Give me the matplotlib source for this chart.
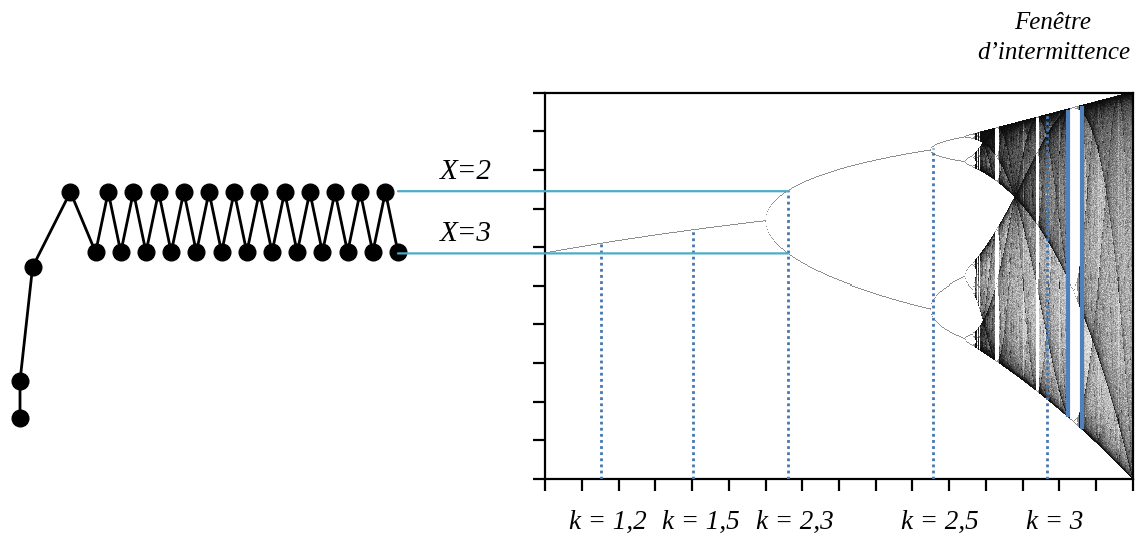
import numpy as np
import matplotlib
matplotlib.use("Agg")
import matplotlib.pyplot as plt
from matplotlib.patches import ConnectionPatch

# left time series (zigzag converging to a 2-cycle)
t_vals = [0.0, 0.0, 0.5, 2.0, 3.0, 3.5, 4.0, 4.5, 5.0, 5.5, 6.0, 6.5, 7.0, 7.5,
          8.0, 8.5, 9.0, 9.5, 10.0, 10.5, 11.0, 11.5, 12.0, 12.5, 13.0, 13.5,
          14.0, 14.5, 15.0]
x_vals = [0.158, 0.254, 0.549, 0.743, 0.587, 0.743, 0.587, 0.743, 0.587, 0.743,
          0.587, 0.743, 0.587, 0.743, 0.587, 0.743, 0.587, 0.743, 0.587, 0.743,
          0.587, 0.743, 0.587, 0.743, 0.587, 0.743, 0.587, 0.743, 0.587]

# the two values of the cycle (X=2, X=3) and the k where they are read
cycle_vals = [0.745, 0.584]
cycle_labels = ["X=2", "X=3"]
k_cycle = 3.062

# dotted markers under the diagram
k_marks = [2.552, 2.804, 3.062, 3.455, 3.767]
k_marks_top = [0.608, 0.645, 0.748, 0.857, 0.942]
k_labels = ["k = 1,2", "k = 1,5", "k = 2,3", "k = 2,5", "k = 3"]

# intermittency window borders
win_k = [3.824, 3.860]
win_lo = [0.160, 0.130]
win_hi = [0.955, 0.966]

r_min, r_max = 2.4, 4.0

# bifurcation diagram as a density image
ncol, nrow = 588, 386
r = np.linspace(r_min, r_max, ncol)
x = np.full(ncol, 0.5)
for i in range(4000):
    x = r * x * (1 - x)
counts = np.zeros(ncol * nrow)
cols = np.arange(ncol) * nrow
n_samp = 10000
for i in range(n_samp):
    x = r * x * (1 - x)
    idx = np.clip((x * nrow).astype(int), 0, nrow - 1)
    counts += np.bincount(cols + idx, minlength=ncol * nrow)
counts = counts.reshape(ncol, nrow).T
dens = counts / n_samp * nrow
shade = 1 - np.exp(-dens / 1.1)
# periodic columns: thin grey branches
periodic = (counts > 0).sum(axis=0) < 60
shade[:, periodic] = np.where(counts[:, periodic] > 0, 0.55, 0.0)

fig = plt.figure(figsize=(11.4, 5.37), dpi=100)

ax = fig.add_axes([545 / 1140, 58 / 537, 588 / 1140, 386.3 / 537])
ax.imshow(shade, origin="lower", extent=[r_min, r_max, 0, 1], aspect="auto",
          cmap="Greys", vmin=0, vmax=1.05, interpolation="nearest", zorder=1)
ax.set_xlim(r_min, r_max)
ax.set_ylim(0, 1)
ax.set_xticks(np.arange(r_min, r_max + 0.01, 0.1))
ax.set_yticks(np.arange(0, 1.01, 0.1))
ax.tick_params(direction="out", length=8.5, width=1.6, labelbottom=False,
               labelleft=False)
for s in ax.spines.values():
    s.set_linewidth(1.6)

for k, top in zip(k_marks, k_marks_top):
    ax.plot([k, k], [0, top], color="#4576b0", lw=2.0,
            linestyle=(0, (1, 1.2)), zorder=3)
for k, lab in zip(k_marks, k_labels):
    ax.annotate(lab, xy=(k, 0), xycoords=("data", "axes fraction"),
                xytext=(5, -31), textcoords="offset points", ha="center",
                va="center", fontsize=19.5, family="Liberation Serif",
                style="italic", annotation_clip=False)

for k, lo, hi in zip(win_k, win_lo, win_hi):
    ax.plot([k, k], [lo, hi], color="#4f81bd", lw=3.0, zorder=4,
            solid_capstyle="butt")

fig.text(1053 / 1140, 1 - 23 / 537, "Fenêtre", ha="center", va="center",
         fontsize=18, family="Liberation Serif", style="italic")
fig.text(1054 / 1140, 1 - 53 / 537, "d\u2019intermittence", ha="center",
         va="center", fontsize=18, family="Liberation Serif", style="italic")

# time series on the left
ax_ts = fig.add_axes([0, 58 / 537, 420 / 1140, 386.3 / 537])
ax_ts.set_xlim(-0.794, 15.873)
ax_ts.set_ylim(0, 1)
ax_ts.axis("off")
ax_ts.plot(t_vals, x_vals, color="black", lw=2.0, marker="o", markersize=12,
           zorder=3)

for yv, lab in zip(cycle_vals, cycle_labels):
    con = ConnectionPatch(xyA=(t_vals[-1], yv), coordsA=ax_ts.transData,
                          xyB=(k_cycle, yv), coordsB=ax.transData,
                          color="#4bacc6", lw=1.6, zorder=2)
    fig.add_artist(con)
    ax.annotate(lab, xy=(r_min, yv), xytext=(-57, 14),
                textcoords="offset points", ha="center", va="center",
                fontsize=21, family="Liberation Serif", style="italic",
                annotation_clip=False)

fig.savefig("out.png", dpi=100)
